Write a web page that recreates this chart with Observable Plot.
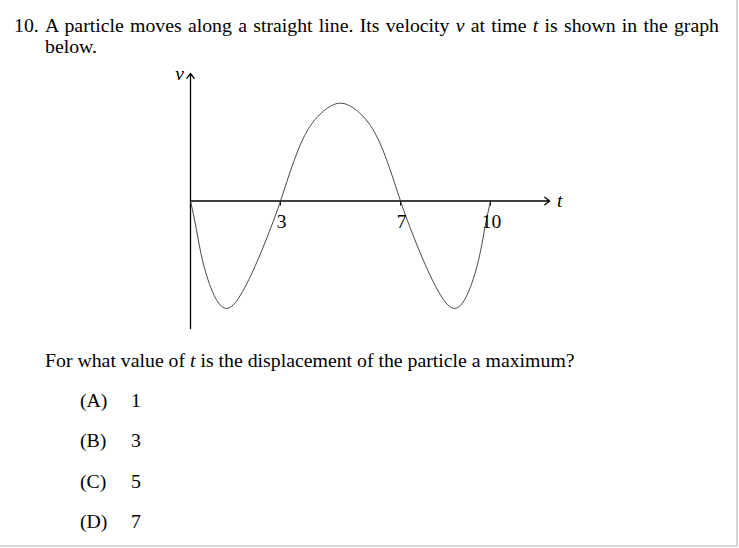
<!DOCTYPE html>
<html>
<head>
<meta charset="utf-8">
<script src="https://cdn.jsdelivr.net/npm/d3@7"></script>
<script src="https://cdn.jsdelivr.net/npm/@observablehq/plot@0.6"></script>
<style>
  html, body { margin: 0; padding: 0; background: #fff; }
  body { width: 739px; height: 548px; position: relative; overflow: hidden;
         font-family: "Liberation Serif", "Times New Roman", serif; color: #000; }
  .frame { position: absolute; left: 0; top: 0; width: 736px; height: 545px;
           border-right: 2px solid #d6d6d6; border-bottom: 2px solid #d6d6d6; }
  .t { position: absolute; font-size: 19.8px; line-height: 22px; white-space: nowrap; }
  .just { text-align: justify; text-align-last: justify; white-space: normal; }
  #chart { position: absolute; left: 150px; top: 53px; }
</style>
</head>
<body>
<div class="frame"></div>
<div class="t" style="left:14px; top:14px;">10.</div>
<div class="t just" style="left:45px; top:14px; width:674px;">A particle moves along a straight line. Its velocity <i>v</i> at time <i>t</i> is shown in the graph</div>
<div class="t" style="left:45px; top:35px;">below.</div>
<div id="chart"></div>
<div class="t" style="left:45px; top:349px;">For what value of <i>t</i> is the displacement of the particle a maximum?</div>
<div id="opts"></div>
<script>
// Curve (t, v)
const tValues = [0, 0.19, 0.41, 0.78, 1.2, 1.67, 2.22, 2.67, 3, 3.44, 3.94, 4.5, 5, 5.5, 6.06, 6.56, 7, 7.33, 7.78, 8.33, 8.8, 9.22, 9.59, 9.81, 10];
const vValues = [0, -0.91, -2.02, -3.13, -3.58, -3.13, -2.02, -0.91, 0, 1.31, 2.42, 3.05, 3.26, 3.05, 2.42, 1.31, 0, -0.91, -2.02, -3.13, -3.58, -3.13, -2.02, -0.91, 0];
const tTicks = [3, 7, 10];
const tickLabels = ["3", "7", "10"];
const tAxis = [0, 11.97];
const vAxis = [-4.25, 4.25];
const axisNames = ["t", "v"];
const optionLetters = ["(A)", "(B)", "(C)", "(D)"];
const optionValues = ["1", "3", "5", "7"];

const curve = tValues.map((t, i) => ({t, v: vValues[i]}));
const ticks = tTicks.map((t, i) => ({t, label: tickLabels[i]}));
const axes = [
  {x1: tAxis[0], y1: 0, x2: tAxis[1], y2: 0},
  {x1: 0, y1: vAxis[0], x2: 0, y2: vAxis[1]}
];

const chart = Plot.plot({
  width: 440, height: 295,
  marginLeft: 40, marginRight: 40, marginTop: 20, marginBottom: 20,
  x: {domain: [0, 12], axis: null},
  y: {domain: vAxis, axis: null},
  style: {background: "transparent", overflow: "visible"},
  marks: [
    Plot.arrow(axes, {x1: "x1", y1: "y1", x2: "x2", y2: "y2", stroke: "#000", strokeWidth: 1.3, headLength: 7, headAngle: 75}),
    Plot.ruleX(ticks, {x: "t", y1: 0, y2: 0, insetBottom: -5, stroke: "#000", strokeWidth: 1}),
    Plot.line(curve, {x: "t", y: "v", curve: "natural", stroke: "#333", strokeWidth: 0.9}),
    Plot.text(ticks, {x: "t", y: 0, text: "label", dy: 21, dx: 1, fill: "#000", className: "ticklab"}),
    Plot.text([axisNames[0]], {x: tAxis[1], y: 0, text: d => d, dx: 10, dy: 0, fill: "#000", className: "axisname"}),
    Plot.text([axisNames[1]], {x: 0, y: vAxis[1], text: d => d, dx: -11, dy: 0, fill: "#000", className: "axisname"})
  ]
});
d3.select(chart).selectAll("text")
  .style("font-family", "'Liberation Serif', 'Times New Roman', serif")
  .style("font-size", "19.5px");
d3.select(chart).selectAll(".axisname text").style("font-style", "italic");
document.getElementById("chart").appendChild(chart);

const opts = document.getElementById("opts");
optionLetters.forEach((L, i) => {
  const a = document.createElement("div");
  a.className = "t"; a.style.left = "80px"; a.style.top = (389 + 40.4 * i) + "px";
  a.textContent = L; opts.appendChild(a);
  const b = document.createElement("div");
  b.className = "t"; b.style.left = "131px"; b.style.top = (389 + 40.4 * i) + "px";
  b.textContent = optionValues[i]; opts.appendChild(b);
});
</script>
</body>
</html>
